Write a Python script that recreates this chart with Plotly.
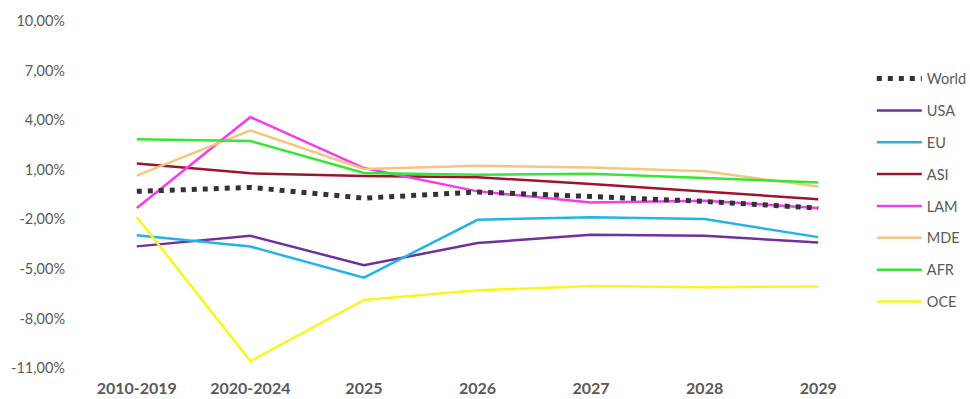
import plotly.graph_objects as go

# Periods on the category axis
periods = ["2010-2019", "2020-2024", "2025", "2026", "2027", "2028", "2029"]

# Growth rates (%) by region
world = [-0.31, -0.07, -0.72, -0.35, -0.62, -0.92, -1.32]
usa = [-3.64, -3.00, -4.78, -3.44, -2.94, -3.00, -3.40]
eu = [-2.96, -3.65, -5.53, -2.03, -1.87, -1.99, -3.08]
asi = [1.38, 0.78, 0.62, 0.55, 0.13, -0.31, -0.78]
lam = [-1.32, 4.19, 1.10, -0.31, -0.98, -0.88, -1.32]
mde = [0.64, 3.38, 1.04, 1.24, 1.14, 0.90, -0.01]
afr = [2.84, 2.74, 0.80, 0.70, 0.76, 0.50, 0.23]
oce = [-1.87, -10.58, -6.88, -6.30, -6.03, -6.11, -6.07]

# Y-axis ticks
y_ticks = [10, 7, 4, 1, -2, -5, -8, -11]
y_tick_labels = ["10,00%", "7,00%", "4,00%", "1,00%", "-2,00%", "-5,00%", "-8,00%", "-11,00%"]

series = [
    ("USA", usa, "#7030A0"),
    ("EU", eu, "#22B4E8"),
    ("ASI", asi, "#A3122C"),
    ("LAM", lam, "#F53BF0"),
    ("MDE", mde, "#F7C67E"),
    ("AFR", afr, "#33E833"),
    ("OCE", oce, "#F7F71E"),
]

fig = go.Figure()

for rank, (name, vals, color) in enumerate(series, start=2):
    fig.add_trace(go.Scatter(
        x=periods, y=vals, name=name, mode="lines",
        line=dict(color=color, width=2.5),
        legendgroup=name, legendrank=rank,
    ))

# World drawn last so its dotted line sits above the regional lines
fig.add_trace(go.Scatter(
    x=periods, y=world, name="World", mode="lines",
    line=dict(color="#333333", width=5, dash="5px,6px"),
    legendgroup="World", legendrank=1,
))

fig.update_layout(
    width=970, height=399,
    margin=dict(l=80, r=95, t=21, b=31, autoexpand=False),
    paper_bgcolor="white", plot_bgcolor="white",
    font=dict(family="Lato, Open Sans, sans-serif", color="#595959"),
    showlegend=True,
    legend=dict(
        x=0.996, y=0.88, xanchor="left", yanchor="top",
        font=dict(size=14.5, color="#595959"),
        itemwidth=45, tracegroupgap=10,
        bgcolor="rgba(0,0,0,0)",
    ),
    xaxis=dict(
        type="category", range=[-0.5, 6.5], automargin=False,
        showgrid=False, zeroline=False, showline=False, ticks="",
        tickfont=dict(size=16, color="#595959", family="Lato, sans-serif", weight="bold"),
        ticklabelstandoff=9,
    ),
    yaxis=dict(
        range=[-11, 10], tickvals=y_ticks, ticktext=y_tick_labels, automargin=False,
        showgrid=False, zeroline=False, showline=False, ticks="",
        tickfont=dict(size=14.5, color="#595959"),
        ticklabelstandoff=14,
    ),
)

fig.write_html("out.html")
